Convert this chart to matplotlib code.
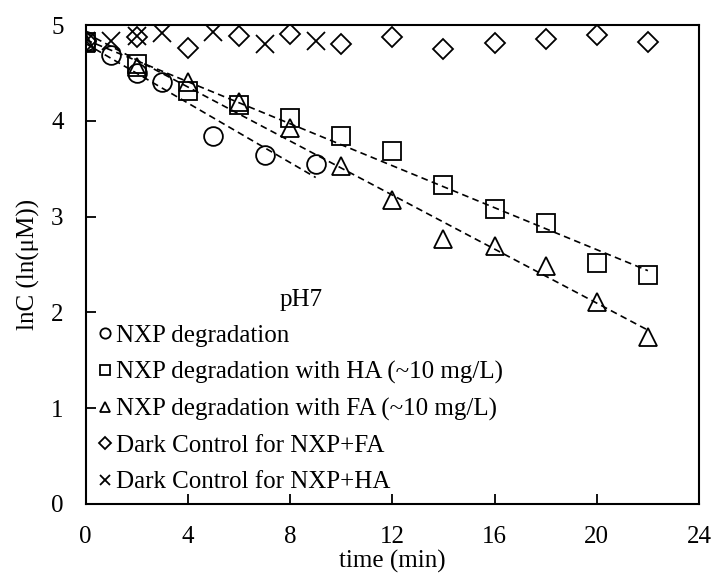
import numpy as np
import matplotlib
matplotlib.use("Agg")
import matplotlib.pyplot as plt

plt.rcParams["font.family"] = ["Liberation Serif", "DejaVu Serif"]

# lnC (ln(uM)) versus irradiation time at pH 7
t_nxp = [0, 1, 2, 3, 5, 7, 9]
ln_nxp = [4.83, 4.69, 4.50, 4.40, 3.84, 3.64, 3.55]

t_ha = [0, 2, 4, 6, 8, 10, 12, 14, 16, 18, 20, 22]
ln_ha = [4.82, 4.59, 4.31, 4.16, 4.03, 3.84, 3.69, 3.33, 3.08, 2.93, 2.52, 2.39]

t_fa = [0, 2, 4, 6, 8, 10, 12, 14, 16, 18, 20, 22]
ln_fa = [4.81, 4.56, 4.40, 4.20, 3.93, 3.53, 3.17, 2.77, 2.69, 2.48, 2.11, 1.74]

t_dark_fa = [0, 2, 4, 6, 8, 10, 12, 14, 16, 18, 20, 22]
ln_dark_fa = [4.83, 4.88, 4.76, 4.89, 4.91, 4.80, 4.88, 4.75, 4.81, 4.85, 4.90, 4.82]

t_dark_ha = [0, 1, 2, 3, 5, 7, 9]
ln_dark_ha = [4.83, 4.83, 4.89, 4.92, 4.93, 4.80, 4.83]

labels = [
    "NXP degradation",
    "NXP degradation with HA (~10 mg/L)",
    "NXP degradation with FA (~10 mg/L)",
    "Dark Control for NXP+FA",
    "Dark Control for NXP+HA",
]

x_ticks = [0, 4, 8, 12, 16, 20, 24]
y_ticks = [0, 1, 2, 3, 4, 5]

FS = 18

fig = plt.figure(figsize=(7.15, 5.74), dpi=100)
ax = fig.add_axes([0.1199, 0.1220, 0.9776 - 0.1199, 0.9564 - 0.1220])

mk = dict(linestyle="none", markerfacecolor="none", markeredgecolor="black",
          markeredgewidth=1.3, color="black")

# linear first-order fits, drawn as dashed lines over each photolysis series
for tt, yy in [(t_nxp, ln_nxp), (t_ha, ln_ha), (t_fa, ln_fa)]:
    k, b = np.polyfit(tt, yy, 1)
    xs = np.array([min(tt), max(tt)])
    ax.plot(xs, k * xs + b, color="black", lw=1.2, linestyle=(0, (4, 2.6)), zorder=3)

ax.plot(t_nxp, ln_nxp, marker="o", markersize=13.5, label=labels[0], **mk)
ax.plot(t_ha, ln_ha, marker="s", markersize=13.0, label=labels[1], **mk)
ax.plot(t_fa, ln_fa, marker="^", markersize=13.5, label=labels[2], **mk)
ax.plot(t_dark_fa, ln_dark_fa, marker="D", markersize=10.3, label=labels[3], **mk)
ax.plot(t_dark_ha, ln_dark_ha, marker="x", markersize=12.5, label=labels[4], **mk)

ax.set_xlim(0, 24)
ax.set_ylim(0, 5)
ax.set_xticks(x_ticks)
ax.set_yticks(y_ticks)
ax.tick_params(direction="in", length=7, width=1.3, labelsize=FS, colors="black")
ax.tick_params(axis="x", pad=16)
ax.tick_params(axis="y", pad=16)
for sp in ax.spines.values():
    sp.set_linewidth(1.5)

ax.set_xlabel("time (min)", fontsize=FS, labelpad=1)
ax.set_ylabel("lnC (ln(μM))", fontsize=FS, labelpad=8)

leg = ax.legend(loc="upper left", bbox_to_anchor=(0.0225, 0.449), frameon=False,
                fontsize=FS, title="pH7", title_fontsize=FS, markerscale=0.55,
                handlelength=0.45, handletextpad=0.2, labelspacing=0.55,
                borderpad=0, borderaxespad=0)

fig.savefig("out.png", dpi=100)
